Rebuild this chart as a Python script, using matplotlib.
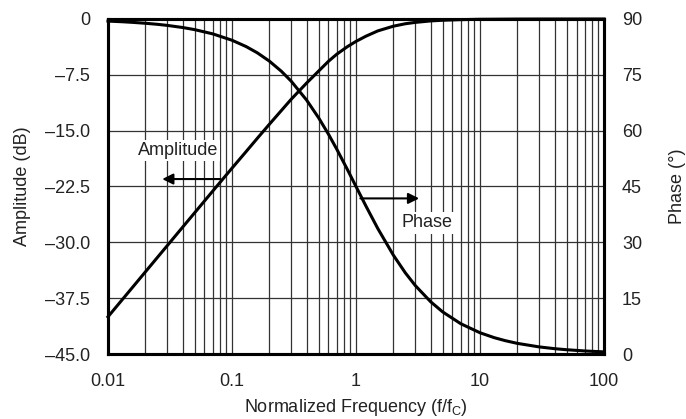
import matplotlib
matplotlib.use("Agg")
import matplotlib.pyplot as plt
import numpy as np

plt.rcParams['font.family'] = ['Liberation Sans', 'DejaVu Sans']
plt.rcParams['mathtext.fontset'] = 'custom'
plt.rcParams['mathtext.rm'] = 'Liberation Sans'

freq = [0.01, 0.013, 0.016, 0.02, 0.025, 0.03, 0.04, 0.05, 0.07, 0.1, 0.13, 0.16, 0.2, 0.25, 0.3,
        0.4, 0.5, 0.6, 0.7, 0.85, 1.0, 1.2, 1.5, 2.0, 2.5, 3.0, 4.0, 5.0, 7.0, 10.0, 13.0, 16.0,
        20.0, 30.0, 40.0, 50.0, 70.0, 100.0]
amplitude_db = [-40.0, -37.72, -35.92, -33.98, -32.04, -30.46, -27.96, -26.03, -23.11, -20.04,
                -17.81, -16.03, -14.15, -12.30, -10.79, -8.60, -6.99, -5.68, -4.73, -3.73,
                -3.01, -2.32, -1.60, -0.97, -0.64, -0.46, -0.26, -0.17, -0.09, -0.04, -0.03,
                -0.02, -0.01, -0.005, -0.003, -0.002, -0.001, -0.0004]
phase_deg = [89.43, 89.26, 89.08, 88.85, 88.57, 88.28, 87.71, 87.14, 86.00, 84.29, 82.59, 80.91,
             78.69, 75.96, 73.30, 68.20, 63.43, 59.04, 55.01, 49.64, 45.00, 39.81, 33.69, 26.57,
             21.80, 18.43, 14.04, 11.31, 8.13, 5.71, 4.40, 3.58, 2.86, 1.91, 1.43, 1.15, 0.82, 0.57]

x_ticks = [0.01, 0.1, 1, 10, 100]
x_ticklabels = ['0.01', '0.1', '1', '10', '100']
amp_ticks = [0, -7.5, -15.0, -22.5, -30.0, -37.5, -45.0]
amp_ticklabels = ['0', '\u20137.5', '\u201315.0', '\u201322.5', '\u201330.0', '\u201337.5', '\u201345.0']
phase_ticks = [0, 15, 30, 45, 60, 75, 90]
phase_ticklabels = ['0', '15', '30', '45', '60', '75', '90']

FS = 13
TXT = '#222222'

fig = plt.figure(figsize=(6.86, 4.19), dpi=100)
ax = fig.add_axes([0.1574, 0.1551, 0.7231, 0.7996])
ax.set_xscale('log')
ax.set_xlim(0.01, 100)
ax.set_ylim(-45, 0)

ax.plot(freq, amplitude_db, color='black', lw=2.2, zorder=5, clip_on=False)

ax.set_xticks(x_ticks)
ax.set_xticklabels(x_ticklabels)
ax.set_yticks(amp_ticks)
ax.set_yticklabels(amp_ticklabels)
ax.xaxis.set_minor_locator(matplotlib.ticker.LogLocator(base=10, subs=np.arange(2, 10)))
ax.xaxis.set_minor_formatter(matplotlib.ticker.NullFormatter())
ax.tick_params(which='both', length=0, labelsize=FS, colors=TXT)
ax.tick_params(axis='y', pad=13)
ax.tick_params(axis='x', pad=14)
ax.grid(True, which='both', axis='x', color='#333333', lw=0.9)
ax.grid(True, which='major', axis='y', color='#333333', lw=0.9)
for s in ax.spines.values():
    s.set_linewidth(2.2)
    s.set_zorder(6)

ax.set_xlabel('Normalized Frequency (f/f$_\\mathrm{C}$)', fontsize=FS, color=TXT, va='center')
ax.xaxis.set_label_coords(0.5, -0.161)
ax.set_ylabel('Amplitude (dB)', fontsize=FS, color=TXT, va='center')
ax.yaxis.set_label_coords(-0.173, 0.5)

ax2 = ax.twinx()
ax2.set_ylim(0, 90)
ax2.plot(freq, phase_deg, color='black', lw=2.2, zorder=5, clip_on=False)
ax2.set_yticks(phase_ticks)
ax2.set_yticklabels(phase_ticklabels)
ax2.tick_params(length=0, labelsize=FS, colors=TXT, pad=13)
ax2.set_ylabel('Phase (\u00b0)', fontsize=FS, color=TXT, va='center')
ax2.yaxis.set_label_coords(1.149, 0.5)
for s in ax2.spines.values():
    s.set_linewidth(2.2)

# annotations
ax.annotate('', xy=(0.026, -21.5), xytext=(0.085, -21.5),
            arrowprops=dict(arrowstyle='-|>', color='black', lw=1.5, mutation_scale=16), zorder=7)
ax.text(0.0367, -17.7, 'Amplitude', fontsize=FS, color=TXT, ha='center', va='center',
        bbox=dict(facecolor='white', edgecolor='none', pad=1.5), zorder=7)
ax.annotate('', xy=(3.4, -24.1), xytext=(1.03, -24.1),
            arrowprops=dict(arrowstyle='-|>', color='black', lw=1.5, mutation_scale=16), zorder=7)
ax.text(3.74, -27.4, 'Phase', fontsize=FS, color=TXT, ha='center', va='center',
        bbox=dict(facecolor='white', edgecolor='none', pad=1.5), zorder=7)

fig.savefig('out.png', dpi=100)
